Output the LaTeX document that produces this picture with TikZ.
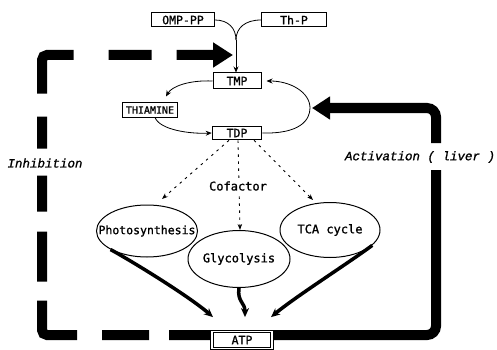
\documentclass[tikz,border=0pt]{standalone}
\usepackage{fontspec}
\usetikzlibrary{arrows.meta,shapes.geometric,calc}
\newfontfamily\labfont{DejaVu Sans Mono}[FakeBold=1.2]
\newfontfamily\slfont{Liberation Mono}[FakeBold=1.2]
\tikzset{
  box/.style={draw, line width=1pt, inner sep=0pt, minimum height=14pt,
    font=\labfont\fontsize{11.5}{13}\selectfont},
  ell/.style={draw, ellipse, line width=1pt, inner sep=0pt, fill=white},
  lab/.style={inner sep=1pt, font=\labfont\fontsize{12}{14}\selectfont},
  itlab/.style={inner sep=1pt, font=\slfont\itshape\fontsize{12.5}{14}\selectfont},
  thinline/.style={line width=0.8pt},
  thinarrow/.style={line width=0.8pt, -{Stealth[length=6pt,width=5pt]}},
  dotarrow/.style={line width=0.9pt, dash pattern=on 2.5pt off 4.5pt, -{Stealth[length=6pt,width=4.5pt]}},
  fatarrow/.style={line width=3.5pt, -{Stealth[length=9pt,width=8pt]}},
  actline/.style={line width=10pt, rounded corners=9pt,
    dash pattern=on 323pt off 27pt on 1000pt, -{Triangle[length=18pt,width=22pt]}},
  inhline/.style={line width=10pt, rounded corners=5pt,
    dash pattern=on 41pt off 20pt on 47pt off 25pt on 67pt off 19pt on 50pt off 20pt on 36pt off 27pt on 32pt off 23pt on 68pt off 35pt on 43pt off 25pt on 300pt,
    -{Triangle[length=20pt,width=24pt]}}
}
\begin{document}
\begin{tikzpicture}[x=1pt,y=-1pt]
\useasboundingbox (0,0) rectangle (497,350);
% boxes
\node[box, minimum width=63pt] (omp) at (183,20) {OMP-PP};
\node[box, minimum width=65pt] (thp) at (294,20) {Th-P};
\node[box, minimum width=48pt, minimum height=16pt] (tmp) at (237,81) {TMP};
\node[box, minimum width=55pt, font=\labfont\fontsize{10}{12}\selectfont] (thia) at (150,110) {THIAMINE};
\node[box, minimum width=49pt, minimum height=13pt, line width=1.6pt] (tdp) at (237,133) {TDP};
\node[box, double, double distance=1.6pt, line width=0.8pt, minimum width=60pt, minimum height=17pt] (atp) at (242,340) {ATP};
% top junction
\coordinate (junc) at (236,40);
\draw[thinline] (omp.east) .. controls (228,20) and (236,28) .. (junc);
\draw[thinline] (thp.west) .. controls (245,20) and (236,28) .. (junc);
\draw[thinarrow] (junc) -- (junc |- tmp.north);
% cycle
\draw[thinarrow] (tmp.west) .. controls (190,80) and (172,86) .. ([xshift=16pt,yshift=6pt]thia.north);
\draw[thinarrow] ([xshift=5pt]thia.south) .. controls (160,130) and (190,134) .. (tdp.west);
\draw[thinarrow] (tdp.east) .. controls (300,134) and (310,120) .. (310,108) .. controls (310,92) and (290,81) .. ([xshift=5pt]tmp.east);
% ellipses
\node[ell, minimum width=101pt, minimum height=52pt] (pho) at (147,231) {};
\node[ell, minimum width=100pt, minimum height=55pt] (tca) at (330,230) {};
\node[ell, minimum width=102pt, minimum height=57pt] (gly) at (239,259) {};
\node[lab, font=\labfont\fontsize{11.5}{13}\selectfont] (phot) at (pho) {Photosynthesis};
\node[lab] (tcat) at (tca) {TCA cycle};
\node[lab] (glyt) at (gly) {Glycolysis};
% cofactor arrows
\coordinate (pt) at (162,199);
\coordinate (tt) at (313,200);
\draw[dotarrow] ([xshift=-8pt]tdp.south) -- (pt);
\draw[dotarrow] ([xshift=17pt]tdp.south) -- (tt);
\draw[dotarrow] ([xshift=1pt]tdp.south) -- ([xshift=1pt]gly.north);
\node[lab, fill=white] (cof) at (238,186) {Cofactor};
% to ATP
\draw[fatarrow] (pho.207) .. controls (135,263) and (190,297) .. ($(atp.north)+(-29,-14)$);
\draw[fatarrow] (gly.south) .. controls (237,302) and (245,302) .. ($(atp.north)+(3,-14)$);
\draw[fatarrow] (tca.-20) .. controls (350,262) and (295,297) .. ($(atp.north)+(29,-14)$);
% activation
\coordinate (acttip) at (312,108);
\draw[actline] ([xshift=1.6pt,yshift=5pt]atp.east) -- (436,335) -- (436,108) -- (acttip);
\node[itlab] (act) at (420,157) {Activation ( liver )};
% inhibition
\coordinate (inhtip) at (233,55);
\draw[inhline] ([xshift=-1.6pt,yshift=5pt]atp.west) -- (42,335) -- (42,55) -- (inhtip);
\node[itlab] (inh) at (45,163) {Inhibition};
\end{tikzpicture}
\end{document}
